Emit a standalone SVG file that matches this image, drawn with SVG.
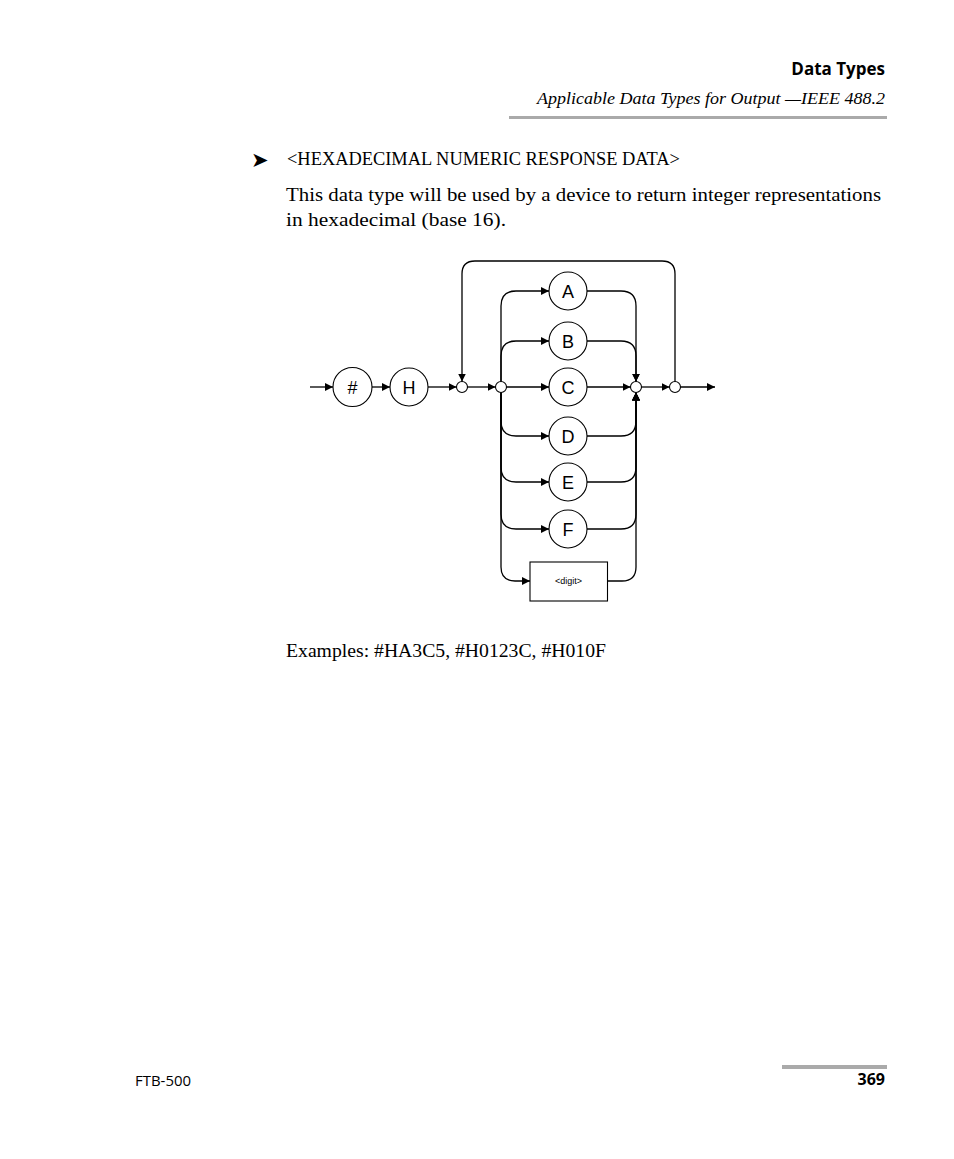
<svg xmlns="http://www.w3.org/2000/svg" width="954" height="1159" viewBox="0 0 954 1159">
<style>
.serif{font-family:"Liberation Serif","DejaVu Serif",serif;fill:#000}
.sans{font-family:"Open Sans","DejaVu Sans",sans-serif;fill:#000}
.lbl{font-family:"Liberation Sans",Arial,sans-serif;font-size:18px;text-anchor:middle;fill:#000}
.small{font-size:9px}
.node{fill:#fff;stroke:#000;stroke-width:1.1}
.con{fill:none;stroke:#000;stroke-width:1.3}
.arr{marker-end:url(#ah)}
.rule{fill:#aaa}
</style>
<defs>
<marker id="ah" markerUnits="userSpaceOnUse" markerWidth="10" markerHeight="8" refX="8" refY="4" orient="auto">
<path d="M0,0 L8,4 L0,8 Z" fill="#000"/>
</marker>
</defs>
<rect width="954" height="1159" fill="#fff"/>
<g id="header">
<text class="sans" x="885" y="75" font-size="17" font-weight="bold" text-anchor="end">Data Types</text>
<text class="serif" x="885" y="104" font-size="16.5" font-style="italic" text-anchor="end" textLength="348" lengthAdjust="spacingAndGlyphs">Applicable Data Types for Output —IEEE 488.2</text>
<rect class="rule" x="509" y="116" width="378" height="3"/>
</g>
<g id="body">
<text x="251" y="167" font-family="DejaVu Sans,sans-serif" font-size="21">➤</text>
<text class="serif" x="287" y="165" font-size="18.5" textLength="393" lengthAdjust="spacingAndGlyphs">&lt;HEXADECIMAL NUMERIC RESPONSE DATA&gt;</text>
<text class="serif" x="286" y="201" font-size="18.5" textLength="595" lengthAdjust="spacingAndGlyphs">This data type will be used by a device to return integer representations</text>
<text class="serif" x="286" y="226" font-size="18.5" textLength="220" lengthAdjust="spacingAndGlyphs">in hexadecimal (base 16).</text>
<text class="serif" x="286" y="657" font-size="18.5" textLength="320" lengthAdjust="spacingAndGlyphs">Examples: #HA3C5, #H0123C, #H010F</text>
</g>
<g id="connectors">
<path class="con arr" d="M310,387 H333"/>
<path class="con arr" d="M372,387 H390"/>
<path class="con arr" d="M428,387 H456.5"/>
<path class="con arr" d="M467.5,387 H495.5"/>
<path class="con arr" d="M506.5,387 H549"/>
<path class="con arr" d="M587,387 H630.5"/>
<path class="con arr" d="M641.5,387 H669.5"/>
<path class="con arr" d="M680.5,387 H715"/>
<path class="con arr" d="M675,381.5 V274 Q675,261 662,261 H475 Q462,261 462,274 V381.5"/>
<path class="con arr" d="M501,381.5 V306 Q501,291 516,291 H549"/>
<path class="con arr" d="M501,381.5 V356 Q501,341 516,341 H549"/>
<path class="con arr" d="M501,392.5 V421 Q501,436 516,436 H549"/>
<path class="con arr" d="M501,392.5 V467 Q501,482 516,482 H549"/>
<path class="con arr" d="M501,392.5 V514 Q501,529 516,529 H549"/>
<path class="con arr" d="M501,392.5 V567 Q501,581 515,581 H530"/>
<path class="con arr" d="M587,291 H621 Q636,291 636,306 V381.5"/>
<path class="con arr" d="M587,341 H621 Q636,341 636,356 V381.5"/>
<path class="con arr" d="M587,436 H621 Q636,436 636,421 V392.5"/>
<path class="con arr" d="M587,482 H621 Q636,482 636,467 V392.5"/>
<path class="con arr" d="M587,529 H621 Q636,529 636,514 V392.5"/>
<path class="con arr" d="M607.5,581 H622 Q636,581 636,567 V392.5"/>
</g>
<g id="n-hash"><circle class="node" cx="352.5" cy="387" r="19.5"/><text class="lbl" x="352.5" y="393.5">#</text></g>
<g id="n-H"><circle class="node" cx="409" cy="387" r="19"/><text class="lbl" x="409" y="393.5">H</text></g>
<g id="j1"><circle class="node" cx="462" cy="387" r="5.5"/></g>
<g id="j2"><circle class="node" cx="501" cy="387" r="5.5"/></g>
<g id="n-A"><circle class="node" cx="568" cy="291" r="19"/><text class="lbl" x="568" y="297.5">A</text></g>
<g id="n-B"><circle class="node" cx="568" cy="341" r="19"/><text class="lbl" x="568" y="347.5">B</text></g>
<g id="n-C"><circle class="node" cx="568" cy="387" r="19"/><text class="lbl" x="568" y="393.5">C</text></g>
<g id="n-D"><circle class="node" cx="568" cy="436" r="19"/><text class="lbl" x="568" y="442.5">D</text></g>
<g id="n-E"><circle class="node" cx="568" cy="482" r="19"/><text class="lbl" x="568" y="488.5">E</text></g>
<g id="n-F"><circle class="node" cx="568" cy="529" r="19"/><text class="lbl" x="568" y="535.5">F</text></g>
<g id="n-digit"><rect class="node" x="530" y="562" width="77.5" height="39"/><text class="lbl small" x="568.5" y="584">&lt;digit&gt;</text></g>
<g id="j3"><circle class="node" cx="636" cy="387" r="5.5"/></g>
<g id="j4"><circle class="node" cx="675" cy="387" r="5.5"/></g>
<g id="footer">
<rect class="rule" x="782" y="1065" width="105" height="4"/>
<text class="sans" x="135" y="1086" font-size="14" textLength="56" lengthAdjust="spacingAndGlyphs">FTB-500</text>
<text class="sans" x="885" y="1085" font-size="16" font-weight="bold" text-anchor="end">369</text>
</g>
</svg>
